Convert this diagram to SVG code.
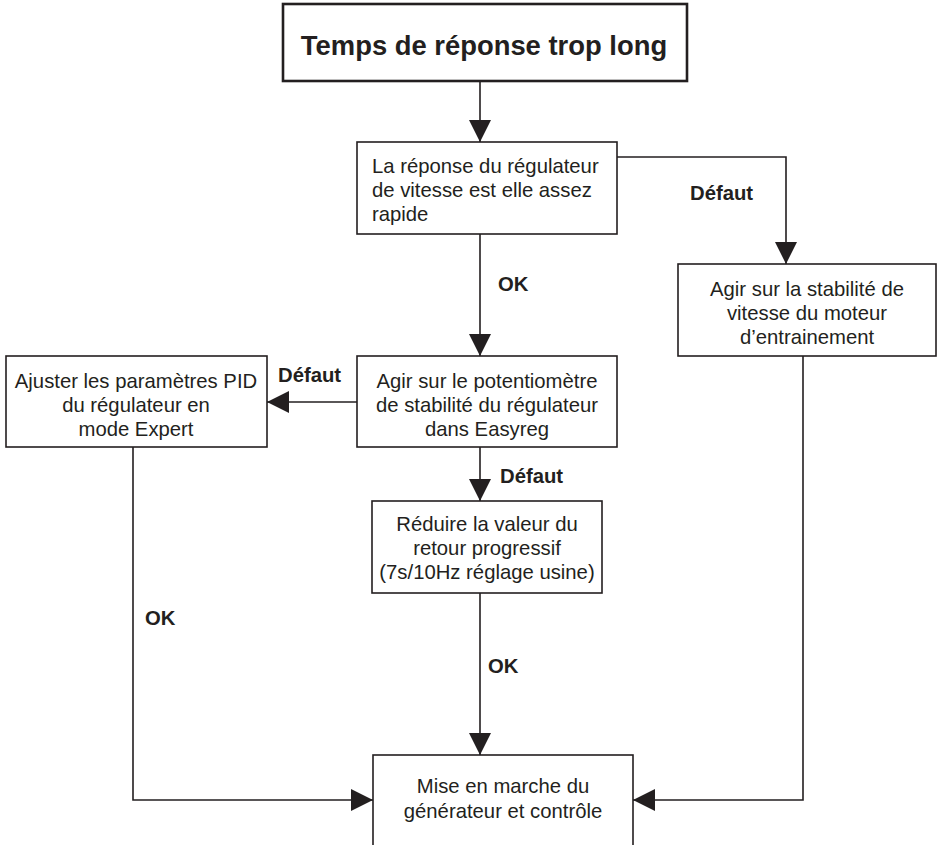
<svg xmlns="http://www.w3.org/2000/svg" width="938" height="845" viewBox="0 0 938 845">
<style>
.box{fill:#fff;stroke:#231f20;stroke-width:1.6}
.title{fill:#fff;stroke:#231f20;stroke-width:2.6}
.t{font-family:"Liberation Sans",Arial,sans-serif;font-size:20.3px;fill:#231f20}
.c{text-anchor:middle}
.b{font-weight:bold}
.conn{fill:none;stroke:#231f20;stroke-width:1.6}
</style>
<defs>
<marker id="ah" markerUnits="userSpaceOnUse" markerWidth="22" markerHeight="22" refX="22" refY="11" orient="auto" viewBox="0 0 22 22">
<path d="M0,0 L22,11 L0,22 z" fill="#231f20"/>
</marker>
</defs>
<g id="connectors">
<path class="conn" d="M480,81 V142" marker-end="url(#ah)"/>
<path class="conn" d="M617,157 H786 V264" marker-end="url(#ah)"/>
<path class="conn" d="M480,234 V356" marker-end="url(#ah)"/>
<path class="conn" d="M357,402 H267" marker-end="url(#ah)"/>
<path class="conn" d="M480,447 V501" marker-end="url(#ah)"/>
<path class="conn" d="M480,593 V755" marker-end="url(#ah)"/>
<path class="conn" d="M133,447 V800 H373" marker-end="url(#ah)"/>
<path class="conn" d="M803,356 V800 H633" marker-end="url(#ah)"/>
<text class="t b" x="690" y="200">Défaut</text>
<text class="t b" x="498" y="291">OK</text>
<text class="t b" x="278" y="382">Défaut</text>
<text class="t b" x="500" y="483">Défaut</text>
<text class="t b" x="145" y="625">OK</text>
<text class="t b" x="488" y="673">OK</text>
</g>
<g id="n-start">
<rect class="title" x="283" y="4" width="404" height="77"/>
<text class="t b c" x="484" y="55" style="font-size:27.4px">Temps de réponse trop long</text>
</g>
<g id="n-question">
<rect class="box" x="357" y="142" width="260" height="92"/>
<text class="t" x="372" y="173">La réponse du régulateur</text>
<text class="t" x="372" y="197">de vitesse est elle assez</text>
<text class="t" x="372" y="221">rapide</text>
</g>
<g id="n-moteur">
<rect class="box" x="678" y="264" width="258" height="92"/>
<text class="t c" x="807" y="296">Agir sur la stabilité de</text>
<text class="t c" x="807" y="320">vitesse du moteur</text>
<text class="t c" x="807" y="344">d’entrainement</text>
</g>
<g id="n-potentiometre">
<rect class="box" x="357" y="356" width="260" height="91"/>
<text class="t c" x="487" y="388">Agir sur le potentiomètre</text>
<text class="t c" x="487" y="412">de stabilité du régulateur</text>
<text class="t c" x="487" y="436">dans Easyreg</text>
</g>
<g id="n-pid">
<rect class="box" x="6" y="356" width="261" height="91"/>
<text class="t c" x="136" y="388">Ajuster les paramètres PID</text>
<text class="t c" x="136" y="412">du régulateur en</text>
<text class="t c" x="136" y="436">mode Expert</text>
</g>
<g id="n-retour">
<rect class="box" x="372" y="501" width="230" height="92"/>
<text class="t c" x="487" y="531">Réduire la valeur du</text>
<text class="t c" x="487" y="555">retour progressif</text>
<text class="t c" x="487" y="579">(7s/10Hz réglage usine)</text>
</g>
<g id="n-fin">
<rect class="box" x="373" y="755" width="260" height="100"/>
<text class="t c" x="503" y="793">Mise en marche du</text>
<text class="t c" x="503" y="818">générateur et contrôle</text>
</g>
</svg>
